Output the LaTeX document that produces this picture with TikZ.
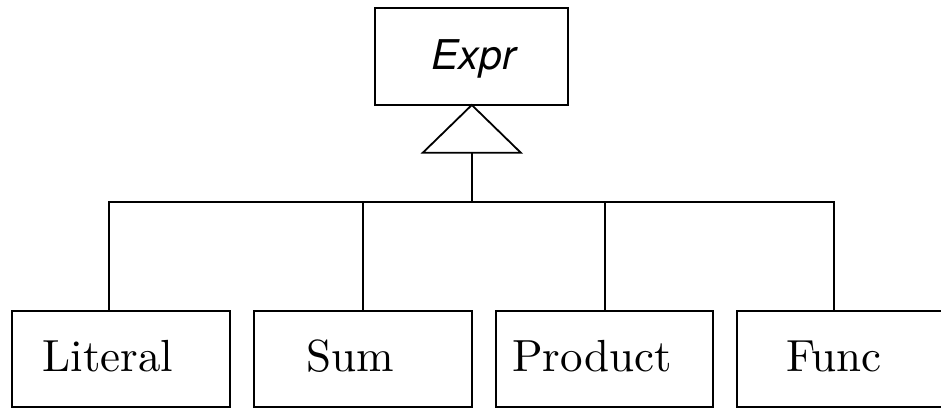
\documentclass[tikz,border=0pt]{standalone}
\usepackage{fontspec}
\newfontfamily\exprfont{TeX Gyre Heros}
\newfontfamily\lmten{lmroman10-regular}[Extension=.otf]
\begin{document}
\begin{tikzpicture}[x=1pt,y=-1pt,
  box/.style={draw,line width=1.8pt,rectangle,inner sep=0pt,outer sep=0pt,minimum height=96pt},
  lbl/.style={anchor=base,inner sep=0pt,font=\lmten\fontsize{45}{54}\selectfont},
  conn/.style={line width=1.8pt}]
\clip (0,0) rectangle (941,408);
\useasboundingbox (0,0) rectangle (941,408);
\node[box,minimum width=193pt,minimum height=97pt] (expr) at (471.8,56.5) {};
\node[anchor=base,inner sep=0pt,font=\exprfont\itshape\fontsize{41}{50}\selectfont] (exprt) at (473.5,69) {Expr};
\node[box,minimum width=217.7pt] (lit) at (121.2,358.7) {};
\node[box,minimum width=218pt] (sum) at (363,358.7) {};
\node[box,minimum width=216.7pt] (prod) at (604.4,358.7) {};
\node[box,minimum width=218pt] (func) at (846,358.7) {};
\node[lbl] (litt) at (108,371.7) {Literal};
\node[lbl] (sumt) at (350,371.7) {Sum};
\node[lbl] (prodt) at (592,371.7) {Product};
\node[lbl] (funct) at (834,371.7) {Func};
\coordinate (tl) at (422.8,152.7);
\coordinate (tr) at (520.8,152.7);
\coordinate (tb) at (471.8,152.7);
\coordinate (j) at (471.8,201.7);
\coordinate (b1) at (109,201.7);
\coordinate (b2) at (363,201.7);
\coordinate (b3) at (605,201.7);
\coordinate (b4) at (834,201.7);
\draw[conn,line join=miter] (expr.south) -- (tr) -- (tl) -- cycle;
\draw[conn] (tb) -- (j);
\draw[conn] (b1 |- lit.north) -- (b1) -- (b4) -- (b4 |- func.north);
\draw[conn] (b2) -- (b2 |- sum.north);
\draw[conn] (b3) -- (b3 |- prod.north);
\end{tikzpicture}
\end{document}
